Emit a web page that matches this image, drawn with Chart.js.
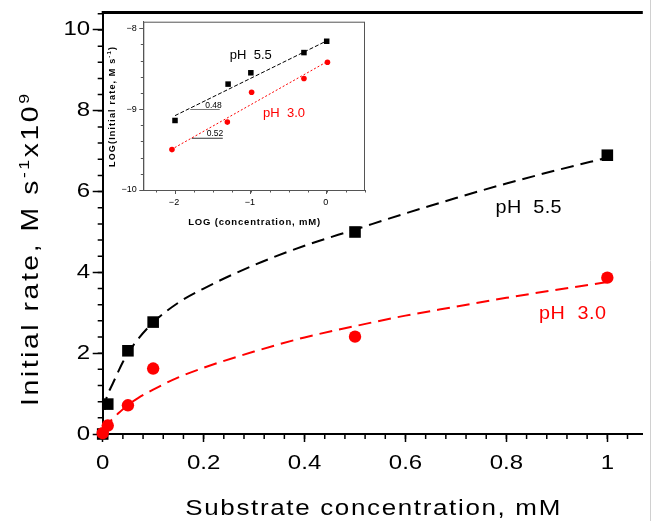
<!DOCTYPE html>
<html><head><meta charset="utf-8">
<script src="https://cdn.jsdelivr.net/npm/chart.js@4.4.1/dist/chart.umd.min.js"></script>
<style>
html,body{margin:0;padding:0;background:#fff;}
#wrap{position:relative;width:651px;height:521px;overflow:hidden;background:#fff;}
#main{position:absolute;left:0;top:0;}
#inset{position:absolute;left:100px;top:14px;}
</style></head><body>
<div id="wrap"><canvas id="main" width="651" height="521"></canvas><canvas id="inset" width="275" height="220"></canvas></div>
<script>
const FONT = '"Liberation Sans", Arial, Helvetica, sans-serif';

// ---------- main chart data ----------
const conc = [0, 0.01, 0.05, 0.1, 0.5, 1.0];
const ratePH55 = [0.0, 0.74, 2.06, 2.77, 5.00, 6.90];
const ratePH30 = [0.02, 0.21, 0.71, 1.62, 2.41, 3.87];
const fitConc55 = [0.004, 0.008, 0.015, 0.02, 0.03, 0.04, 0.05, 0.07, 0.1, 0.15, 0.2, 0.3, 0.4, 0.5, 0.6, 0.7, 0.8, 0.9, 1.0];
const fitRate55 = [0.6, 0.92, 1.12, 1.25, 1.52, 1.78, 2.0, 2.35, 2.76, 3.25, 3.6, 4.18, 4.66, 5.06, 5.46, 5.84, 6.2, 6.53, 6.84];
const fitConc30 = [0.003, 0.01, 0.02, 0.03, 0.05, 0.07, 0.1, 0.15, 0.2, 0.3, 0.4, 0.5, 0.6, 0.7, 0.8, 0.9, 1.0];
const fitRate30 = [0.1, 0.24, 0.38, 0.5, 0.72, 0.89, 1.1, 1.4, 1.64, 2.04, 2.39, 2.67, 2.93, 3.15, 3.37, 3.57, 3.76];
const xTickVals = [0, 0.2, 0.4, 0.6, 0.8, 1];
const xTickLabels = ['0', '0.2', '0.4', '0.6', '0.8', '1'];
const yTickVals = [0, 2, 4, 6, 8, 10];
const yTickLabels = ['0', '2', '4', '6', '8', '10'];

// ---------- inset data (log-log) ----------
const logConc55 = [-2.0, -1.30, -1.0, -0.30, 0.0];
const logRate55 = [-9.14, -8.69, -8.55, -8.30, -8.16];
const logConc30 = [-2.04, -1.31, -0.99, -0.30, 0.01];
const logRate30 = [-9.50, -9.16, -8.79, -8.62, -8.42];
const logFitX55 = [-2.0, 0.0];
const logFitY55 = [-9.08, -8.155];
const logFitX30 = [-2.05, 0.0];
const logFitY30 = [-9.50, -8.415];
const slope48X = [-1.80, -1.41];
const slope48Y = [-9.004, -9.004];
const slope52X = [-1.78, -1.37];
const slope52Y = [-9.36, -9.36];
const insetXTickVals = [-2, -1, 0];
const insetXTickLabels = ['\u22122', '\u22121', '0'];
const insetYTickVals = [-10, -9, -8];
const insetYTickLabels = ['\u221210', '\u22129', '\u22128'];

const pts = (xs, ys) => xs.map((x, i) => ({x: x, y: ys[i]}));

function drawStr(ctx, str, x, y, o) {
  ctx.save();
  ctx.font = o.font;
  ctx.fillStyle = o.color || '#000';
  ctx.textBaseline = o.baseline || 'middle';
  ctx.textAlign = o.align || 'center';
  const w = ctx.measureText(str).width;
  const s = o.width ? o.width / w : (o.stretch || 1);
  ctx.translate(x, y);
  if (o.rotate) ctx.rotate(o.rotate);
  ctx.scale(s, 1);
  ctx.fillText(str, 0, 0);
  ctx.restore();
}
// text widened by a horizontal stretch plus letter spacing to a target width, centred at (cx, cy)
function drawRich(ctx, parts, cx, cy, o) {
  ctx.save();
  const w8 = o.weight ? o.weight + ' ' : '';
  const s = o.stretch || 1;
  let base = 0, n = 0;
  parts.forEach(p => { ctx.font = w8 + p.size + 'px ' + FONT; p.w = ctx.measureText(p.t).width; base += p.w * s; n += p.t.length; });
  const sp = o.width ? Math.max(0, (o.width - base) / Math.max(1, n - 1)) : 0;
  const total = base + sp * (n - 1);
  ctx.translate(cx, cy);
  if (o.rotate) ctx.rotate(o.rotate);
  ctx.fillStyle = o.color || '#000';
  ctx.textBaseline = o.baseline || 'alphabetic';
  ctx.textAlign = 'left';
  let u = -total / 2;
  parts.forEach(p => {
    ctx.font = w8 + p.size + 'px ' + FONT;
    for (const ch of p.t) {
      ctx.save();
      ctx.translate(u, -(p.rise || 0));
      ctx.scale(s, 1);
      ctx.fillText(ch, 0, 0);
      ctx.restore();
      u += ctx.measureText(ch).width * s + sp;
    }
  });
  ctx.restore();
}

const mainDecor = {
  id: 'mainDecor',
  beforeDatasetsDraw(chart) {
    const ctx = chart.ctx, ca = chart.chartArea, x = chart.scales.x, y = chart.scales.y;
    ctx.save();
    ctx.strokeStyle = '#000';
    ctx.lineWidth = 1.5;
    ctx.beginPath();
    for (let i = 0; ; i++) {
      const v = i * 0.04; if (v > x.max + 1e-9) break;
      const px = x.getPixelForValue(v);
      ctx.moveTo(px, ca.bottom); ctx.lineTo(px, ca.bottom + 5);
    }
    for (let i = 0; ; i++) {
      const v = i * 0.4; if (v > y.max + 1e-9) break;
      const py = y.getPixelForValue(v);
      ctx.moveTo(ca.left, py); ctx.lineTo(ca.left - 5, py);
    }
    ctx.stroke();
    ctx.lineWidth = 3;
    ctx.beginPath(); ctx.moveTo(ca.left - 1, ca.top - 0.5); ctx.lineTo(ca.right, ca.top - 0.5); ctx.stroke();
    ctx.strokeStyle = '#d0d0d0'; ctx.lineWidth = 1;
    ctx.beginPath(); ctx.moveTo(650.5, 0); ctx.lineTo(650.5, chart.height); ctx.stroke();
    ctx.restore();
  },
  afterDraw(chart) {
    const ctx = chart.ctx, ca = chart.chartArea, x = chart.scales.x, y = chart.scales.y;
    const tf = '20px ' + FONT;
    xTickVals.forEach((v, i) => drawStr(ctx, xTickLabels[i], x.getPixelForValue(v), ca.bottom + 29, {font: tf, stretch: 1.2}));
    yTickVals.forEach((v, i) => drawStr(ctx, yTickLabels[i], ca.left - 12.5, y.getPixelForValue(v), {font: tf, stretch: 1.2, align: 'right'}));
    drawRich(ctx, [{t: 'Substrate concentration, mM', size: 22}], (ca.left + ca.right) / 2, 515, {width: 375, stretch: 1.18});
    drawRich(ctx, [
      {t: 'Initial rate, M s', size: 24},
      {t: '-1', size: 15, rise: 9},
      {t: 'x10', size: 24},
      {t: '9', size: 15, rise: 9}
    ], 38, 250, {rotate: -Math.PI / 2, width: 312, stretch: 1.18});
    drawRich(ctx, [{t: 'pH  5.5', size: 18}], x.getPixelForValue(0.844), y.getPixelForValue(5.63) + 6.5, {width: 66, stretch: 1.1});
    drawRich(ctx, [{t: 'pH  3.0', size: 18}], x.getPixelForValue(0.931), y.getPixelForValue(3.0) + 6.5, {width: 67, stretch: 1.1, color: '#ff0000'});
  }
};

new Chart(document.getElementById('main'), {
  type: 'scatter',
  data: {
    datasets: [
      {label: 'pH 3.0', data: pts(conc, ratePH30), pointStyle: 'circle', pointRadius: 6.2, backgroundColor: '#ff0000', borderWidth: 0, order: 0, clip: false},
      {label: 'pH 5.5', data: pts(conc, ratePH55), pointStyle: 'rect', pointRadius: 8.2, backgroundColor: '#000', borderWidth: 0, order: 1, clip: false},
      {label: 'fit pH 5.5', data: pts(fitConc55, fitRate55), showLine: true, pointRadius: 0, borderColor: '#000', borderWidth: 2, borderDash: [13, 7], cubicInterpolationMode: 'monotone', order: 2},
      {label: 'fit pH 3.0', data: pts(fitConc30, fitRate30), showLine: true, pointRadius: 0, borderColor: '#ff0000', borderWidth: 2, borderDash: [13, 7], cubicInterpolationMode: 'monotone', order: 3}
    ]
  },
  options: {
    responsive: false, animation: false, devicePixelRatio: 1, events: [],
    layout: {padding: {left: 0, top: 13, right: 0, bottom: 0}},
    plugins: {legend: {display: false}, tooltip: {enabled: false}},
    scales: {
      x: {
        type: 'linear', min: 0, max: 1.0703,
        afterBuildTicks: s => { s.ticks = xTickVals.map(v => ({value: v})); },
        afterFit: s => { s.height = 87; },
        ticks: {display: false},
        grid: {drawOnChartArea: false, drawTicks: true, tickLength: 8, tickWidth: 1.5, tickColor: '#000'},
        border: {color: '#000', width: 2}
      },
      y: {
        type: 'linear', min: 0, max: 10.42,
        afterBuildTicks: s => { s.ticks = yTickVals.map(v => ({value: v})); },
        afterFit: s => { s.width = 102.7; },
        ticks: {display: false},
        grid: {drawOnChartArea: false, drawTicks: true, tickLength: 10, tickWidth: 1.5, tickColor: '#000'},
        border: {color: '#000', width: 2}
      }
    }
  },
  plugins: [mainDecor]
});

const insetDecor = {
  id: 'insetDecor',
  beforeDatasetsDraw(chart) {
    const ctx = chart.ctx, ca = chart.chartArea, x = chart.scales.x, y = chart.scales.y;
    ctx.save();
    ctx.strokeStyle = '#555';
    ctx.lineWidth = 1;
    ctx.strokeRect(ca.left + 0.5, ca.top + 0.5, ca.right - ca.left - 1, ca.bottom - ca.top);
    ctx.beginPath();
    for (let v = Math.ceil(x.min / 0.25) * 0.25; v <= x.max + 1e-9; v += 0.25) {
      const px = Math.round(x.getPixelForValue(v)) + 0.5;
      ctx.moveTo(px, ca.bottom); ctx.lineTo(px, ca.bottom + 2.5);
    }
    for (let v = -10; v <= y.max + 1e-9; v += 0.2) {
      const py = Math.round(y.getPixelForValue(v)) + 0.5;
      ctx.moveTo(ca.left, py); ctx.lineTo(ca.left - 2.5, py);
    }
    ctx.stroke();
    ctx.restore();
  },
  afterDraw(chart) {
    const ctx = chart.ctx, ca = chart.chartArea, x = chart.scales.x, y = chart.scales.y;
    const tf = '9px ' + FONT;
    insetXTickVals.forEach((v, i) => drawStr(ctx, insetXTickLabels[i], x.getPixelForValue(v) - 1, ca.bottom + 12.5, {font: tf}));
    insetYTickVals.forEach((v, i) => drawStr(ctx, insetYTickLabels[i], ca.left - 6.5, y.getPixelForValue(v), {font: tf, align: 'right'}));
    drawRich(ctx, [{t: 'LOG (concentration, mM)', size: 9.5}], (ca.left + ca.right) / 2, 210.5, {width: 132, weight: 'bold'});
    drawRich(ctx, [
      {t: 'LOG(Initial rate, M s', size: 9},
      {t: '-1', size: 6, rise: 4},
      {t: ')', size: 9}
    ], 15, 93, {rotate: -Math.PI / 2, width: 120, weight: 'bold'});
    drawRich(ctx, [{t: 'pH  5.5', size: 13}], x.getPixelForValue(-1.0), y.getPixelForValue(-8.318) + 5, {width: 42});
    drawRich(ctx, [{t: 'pH  3.0', size: 13}], x.getPixelForValue(-0.563), y.getPixelForValue(-9.041) + 5, {width: 42, color: '#ff0000'});
    drawStr(ctx, '0.48', x.getPixelForValue(-1.492), y.getPixelForValue(-8.955), {font: '8.5px ' + FONT});
    drawStr(ctx, '0.52', x.getPixelForValue(-1.473), y.getPixelForValue(-9.304), {font: '8.5px ' + FONT});
  }
};

new Chart(document.getElementById('inset'), {
  type: 'scatter',
  data: {
    datasets: [
      {label: 'pH 3.0', data: pts(logConc30, logRate30), pointStyle: 'circle', pointRadius: 2.8, backgroundColor: '#ff0000', borderWidth: 0, order: 0, clip: false},
      {label: 'pH 5.5', data: pts(logConc55, logRate55), pointStyle: 'rect', pointRadius: 3.9, backgroundColor: '#000', borderWidth: 0, order: 1, clip: false},
      {label: 'fit 5.5', data: pts(logFitX55, logFitY55), showLine: true, pointRadius: 0, borderColor: '#000', borderWidth: 1, borderDash: [4, 2], order: 2},
      {label: 'fit 3.0', data: pts(logFitX30, logFitY30), showLine: true, pointRadius: 0, borderColor: '#ff0000', borderWidth: 1, borderDash: [2, 2], order: 3},
      {label: 'slope 0.48', data: pts(slope48X, slope48Y), showLine: true, pointRadius: 0, borderColor: '#777', borderWidth: 1, order: 4},
      {label: 'slope 0.52', data: pts(slope52X, slope52Y), showLine: true, pointRadius: 0, borderColor: '#333', borderWidth: 1, order: 5}
    ]
  },
  options: {
    responsive: false, animation: false, devicePixelRatio: 1, events: [],
    layout: {padding: {left: 0, top: 7.7, right: 10, bottom: 0}},
    plugins: {legend: {display: false}, tooltip: {enabled: false}},
    scales: {
      x: {
        type: 'linear', min: -2.418, max: 0.505,
        afterBuildTicks: s => { s.ticks = insetXTickVals.map(v => ({value: v})); },
        afterFit: s => { s.height = 44; },
        ticks: {display: false},
        grid: {drawOnChartArea: false, drawTicks: true, tickLength: 4, tickWidth: 1, tickColor: '#555'},
        border: {color: '#555', width: 1}
      },
      y: {
        type: 'linear', min: -10, max: -7.918,
        afterBuildTicks: s => { s.ticks = insetYTickVals.map(v => ({value: v})); },
        afterFit: s => { s.width = 43.3; },
        ticks: {display: false},
        grid: {drawOnChartArea: false, drawTicks: true, tickLength: 4, tickWidth: 1, tickColor: '#555'},
        border: {color: '#555', width: 1}
      }
    }
  },
  plugins: [insetDecor]
});
</script>
</body></html>
